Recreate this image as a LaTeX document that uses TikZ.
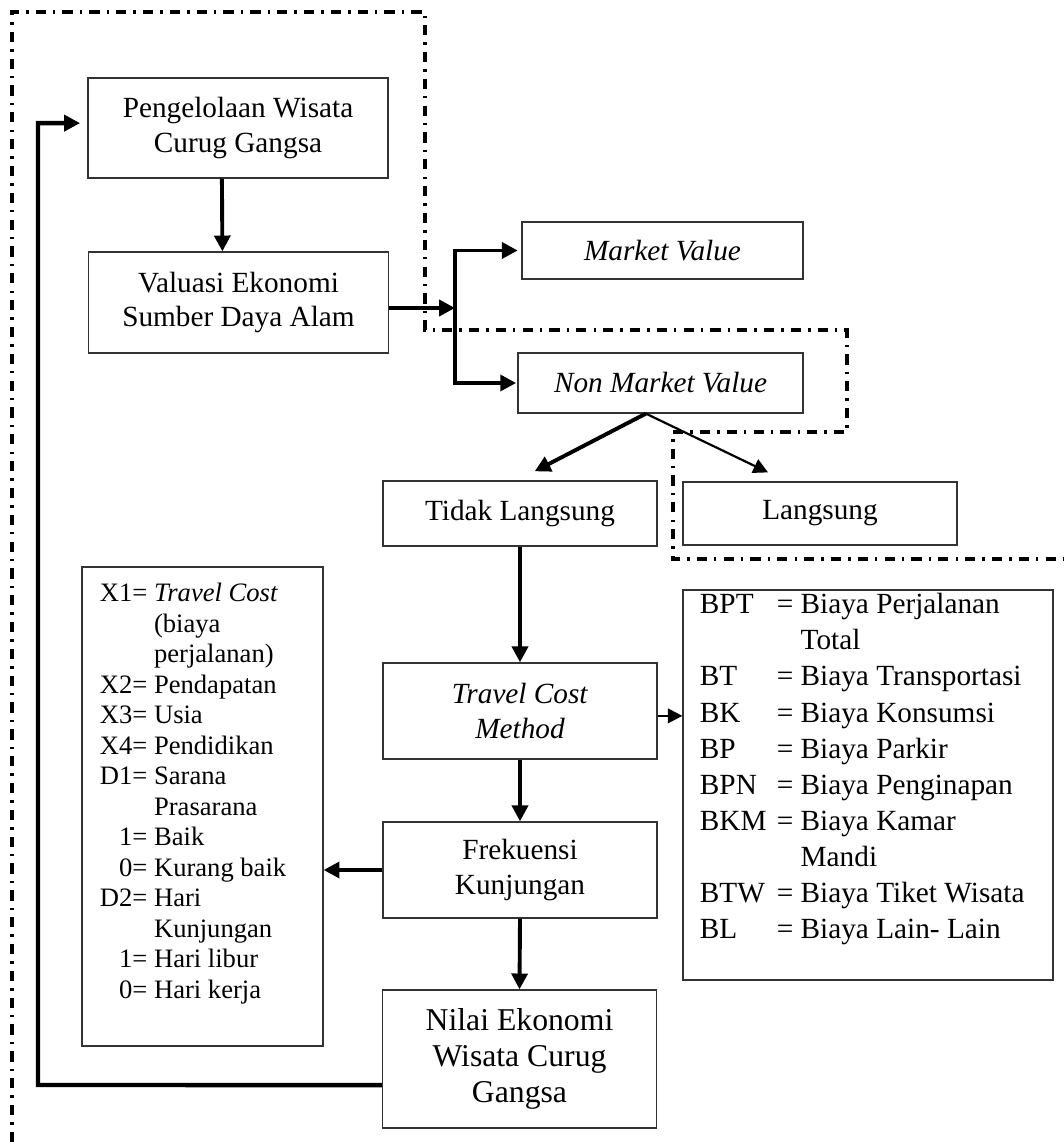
\documentclass[tikz,border=0pt]{standalone}
\usepackage{fontspec}
\setmainfont{Liberation Serif}
\usetikzlibrary{arrows.meta,positioning,calc}
\definecolor{boxLine}{HTML}{333333}
\tikzset{
  fcbox/.style={draw=boxLine,line width=0.5pt,align=center,inner sep=2pt,
    font=\fontsize{12}{14}\selectfont,minimum width=112.3pt},
  fcarrow/.style={line width=1.6pt,-{Triangle[length=6.5pt,width=6.5pt]}},
  fcthin/.style={line width=0.9pt,-{Triangle[length=6pt,width=6pt]}},
  bound/.style={line width=1.3pt,dash pattern=on 4.2pt off 2.9pt on 1pt off 2.9pt},
}

\begin{document}
\begin{tikzpicture}[x=0.41pt,y=-0.41pt]
  \useasboundingbox (0,0) rectangle (1063,1142);
  % batas dash-dot
  \draw[bound] (12,1142) -- (12,12) -- (425,12) -- (425,330) -- (847,330)
    -- (847,432) -- (673,432) -- (673,559) -- (1063,559);
  % kotak alur
  \node[fcbox,minimum width=123pt,minimum height=41pt] (pengelolaan) at (238,128) {Pengelolaan Wisata\\Curug Gangsa};
  \node[fcbox,minimum width=123pt,minimum height=41.4pt] (valuasi) at (238.5,302.5) {Valuasi Ekonomi\\Sumber Daya Alam};
  \node[fcbox,minimum width=115.2pt,minimum height=23.4pt] (market) at (662.5,250.5) {\textit{Market Value}};
  \node[fcbox,minimum width=116.9pt,minimum height=24.6pt] (nonmarket) at (660.5,383) {\textit{Non Market Value}};
  \node[fcbox,minimum height=26.7pt] (tidak) at (520,513.5) {Tidak Langsung};
  \node[fcbox,minimum height=25.8pt] (langsung) at (820,513.5) {Langsung};
  \node[fcbox,minimum height=39.4pt] (tcm) at (520,711) {\textit{Travel Cost}\\\textit{Method}};
  \node[fcbox,minimum height=39.4pt] (frekuensi) at (520,870) {Frekuensi\\Kunjungan};
  \node[fcbox,minimum height=56.6pt,font=\fontsize{13}{14.8}\selectfont] (nilai) at (519.5,1059) {Nilai Ekonomi\\Wisata Curug\\Gangsa};
  % kotak variabel
  \node[draw=boxLine,line width=0.5pt,inner sep=0,minimum width=98.8pt,minimum height=196.4pt] (variabel) at (202.5,806.5) {};
  \node[anchor=base west,inner sep=0,font=\fontsize{10.9}{12.5}\selectfont] (variabeltext)
    at ([shift={(7.4pt,-14.5pt)}]variabel.north west) {%
    \begin{tabular}[t]{@{}r@{ }l@{}}
      X1= & \textit{Travel Cost}\\
          & (biaya\\
          & perjalanan)\\
      X2= & Pendapatan\\
      X3= & Usia\\
      X4= & Pendidikan\\
      D1= & Sarana\\
          & Prasarana\\
      1=  & Baik\\
      0=  & Kurang baik\\
      D2= & Hari\\
          & Kunjungan\\
      1=  & Hari libur\\
      0=  & Hari kerja
    \end{tabular}};
  % kotak biaya
  \node[draw=boxLine,line width=0.5pt,inner sep=0,minimum width=151.7pt,minimum height=159.9pt] (biaya) at (868,785) {};
  \node[anchor=base west,inner sep=0,font=\fontsize{12}{14.8}\selectfont] (biayatext)
    at ([shift={(7pt,-10pt)}]biaya.north west) {%
    \begin{tabular}[t]{@{}l@{\hspace{0.35em}}l@{}}
      BPT & = Biaya Perjalanan\\
          & \phantom{= }Total\\
      BT  & = Biaya Transportasi\\
      BK  & = Biaya Konsumsi\\
      BP  & = Biaya Parkir\\
      BPN & = Biaya Penginapan\\
      BKM & = Biaya Kamar\\
          & \phantom{= }Mandi\\
      BTW & = Biaya Tiket Wisata\\
      BL  & = Biaya Lain- Lain
    \end{tabular}};
  % panah
  \draw[fcarrow] ([xshift=-6.6pt]pengelolaan.south) -- ([xshift=-6.6pt]valuasi.north);
  \coordinate (cabang) at (455,308);
  \draw[fcarrow] (valuasi.east |- cabang) -- (cabang);
  \draw[fcarrow,shorten >=1.5pt] (cabang) |- (market.west);
  \draw[fcarrow,shorten >=0.5pt] (cabang) |- (nonmarket.west);
  \draw[fcarrow] ([xshift=-6pt]nonmarket.south) -- ([shift={(6pt,3.7pt)}]tidak.north);
  \draw[fcthin] ([xshift=-6pt]nonmarket.south) -- ([shift={(-21.3pt,3.7pt)}]langsung.north);
  \draw[fcarrow] (tidak.south) -- (tcm.north);
  \draw[fcthin] ([yshift=-2pt]tcm.east) -- ([yshift=-2pt]tcm.east -| biaya.west);
  \draw[fcarrow] (tcm.south) -- (frekuensi.north);
  \draw[fcarrow] (frekuensi.west) -- (frekuensi.west -| variabel.east);
  \draw[fcarrow] (frekuensi.south) -- (nilai.north);
  \coordinate (balik) at (38,1085);
  \draw[fcarrow,line width=1.8pt,shorten >=3pt] ([yshift=-10.7pt]nilai.west) -- (balik) |- ([yshift=2pt]pengelolaan.west);
\end{tikzpicture}
\end{document}
